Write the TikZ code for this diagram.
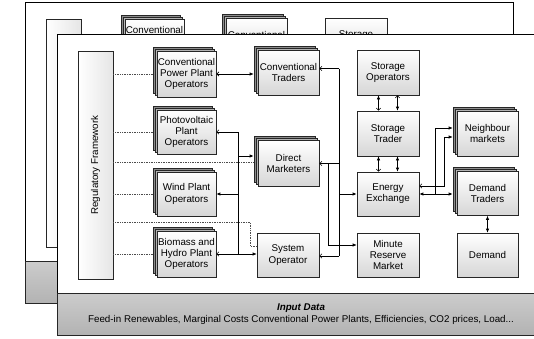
\documentclass[tikz,border=0pt]{standalone}
\usepackage{fontspec}
\setmainfont{Liberation Sans}
\usetikzlibrary{arrows.meta,shadows}
\tikzset{
  FillTip/.tip={Latex[length=4pt,width=3.4pt]},
  OpenTip/.tip={Straight Barb[length=2.2pt,width=4.4pt]},
  txt/.style={font=\fontsize{9.8}{11.2}\selectfont, align=center},
  box/.style={txt, draw=black!85, line width=0.6pt, top color=white, bottom color=black!16, inner sep=1pt},
  stackbox/.style={box,
    copy shadow={shadow xshift=-4pt, shadow yshift=4pt, fill=black!45, draw=black!85, line width=0.6pt},
    copy shadow={shadow xshift=-2pt, shadow yshift=2pt, fill=black!30, draw=black!85, line width=0.6pt}},
  frame/.style={draw=black, line width=0.8pt, fill=white},
  inbox/.style={draw=black!85, line width=0.8pt, top color=black!20, bottom color=black!30, txt, font=\fontsize{9.8}{12}\selectfont},
  regbox/.style={box, left color=white, right color=black!10},
  conn/.style={line width=0.6pt, black},
  heavy/.style={line width=1pt},
  dotline/.style={densely dotted, line width=0.7pt, black!70},
}
\begin{document}
\begin{tikzpicture}[x=1pt, y=-1pt]
  \clip (0,0) rectangle (534,338);
  % ---------- back layer (only the parts that show) ----------
  \begin{scope}[shift={(-32,-32)}, name prefix=b-]
    \node[frame, minimum width=488pt, minimum height=301pt] (frame) at (301,184.5) {};
    \node[inbox, minimum width=488pt, minimum height=42pt] (input) at (301,314) {};
    \node[regbox, minimum width=35pt, minimum height=228pt] (reg) at (95.5,165) {};
    \node[stackbox, minimum width=59pt, minimum height=46pt] (cppo) at (186.5,74) {Conventional\\Power Plant\\Operators};
    \node[stackbox, minimum width=61pt, minimum height=45pt] (ct) at (288.5,72.5) {Conventional\\Traders};
    \node[box, minimum width=62pt, minimum height=45pt] (sop) at (388,72.5) {Storage\\Operators};
  \end{scope}
  % ---------- front layer ----------
  \node[frame, minimum width=488pt, minimum height=301pt] (frame) at (301,184.5) {};
  \node[inbox, minimum width=488pt, minimum height=42pt] (input) at (301,314) {\textbf{\textit{Input Data}}\\Feed-in Renewables, Marginal Costs Conventional Power Plants, Efficiencies, CO2 prices, Load...};
  % regulatory framework
  \node[regbox, minimum width=35pt, minimum height=228pt] (reg) at (95.5,165) {};
  \node[txt, rotate=90] (regtext) at (reg.center) {Regulatory Framework};
  % plant operators
  \node[stackbox, minimum width=59pt, minimum height=46pt] (cppo) at (186.5,74) {Conventional\\Power Plant\\Operators};
  \node[stackbox, minimum width=59pt, minimum height=44pt] (pv) at (186.5,132) {Photovoltaic\\Plant\\Operators};
  \node[stackbox, minimum width=59pt, minimum height=44pt] (wind) at (186.5,194) {Wind Plant\\Operators};
  \node[stackbox, minimum width=59pt, minimum height=46pt] (bio) at (186.5,254) {Biomass and\\Hydro Plant\\Operators};
  % traders
  \node[stackbox, minimum width=61pt, minimum height=45pt] (ct) at (288.5,72.5) {Conventional\\Traders};
  \node[stackbox, minimum width=61pt, minimum height=46pt] (dm) at (288.5,163.5) {Direct\\Marketers};
  \node[box, minimum width=62pt, minimum height=44pt] (so) at (288,255) {System\\Operator};
  % storage / exchange
  \node[box, minimum width=62pt, minimum height=45pt] (sop) at (388,72.5) {Storage\\Operators};
  \node[box, minimum width=62pt, minimum height=45pt] (st) at (388,133.5) {Storage\\Trader};
  \node[box, minimum width=62pt, minimum height=44pt] (ee) at (388,194) {Energy\\Exchange};
  \node[box, minimum width=62pt, minimum height=44pt] (mrm) at (388,255) {Minute\\Reserve\\Market};
  % right column
  \node[stackbox, minimum width=61pt, minimum height=45pt] (nb) at (487.5,133.5) {Neighbour\\markets};
  \node[stackbox, minimum width=61pt, minimum height=44pt] (dt) at (487.5,193.5) {Demand\\Traders};
  \node[box, minimum width=61pt, minimum height=44pt] (dem) at (487.5,255) {Demand};
  % bus coordinates
  \coordinate (lbus) at (238,0);
  \coordinate (rbus) at (339,0);
  \coordinate (mbus) at (328,0);
  \coordinate (nbA) at (435,0);
  \coordinate (nbB) at (444,0);
  \coordinate (sob) at (250,222);
  \coordinate (dmdot) at ([yshift=1.5pt,xshift=-4pt]dm.west);
  % dotted regulatory links
  \draw[dotline] (reg.east |- cppo.west) -- ([xshift=-4pt]cppo.west);
  \draw[dotline] (reg.east |- pv.west) -- ([xshift=-4pt]pv.west);
  \draw[dotline] (reg.east |- wind.west) -- ([xshift=-4pt]wind.west);
  \draw[dotline] (reg.east |- bio.west) -- ([xshift=-4pt]bio.west);
  \draw[dotline] (reg.east |- dmdot) -- (dmdot);
  \draw[dotline] (reg.east |- sob) -- (sob) |- ([yshift=9pt]so.west);
  % conventional
  \draw[conn, OpenTip-FillTip] (cppo.east) -- ([xshift=-4pt]ct.west |- cppo.east);
  % left bus
  \draw[conn] (pv.east -| lbus) -- (bio.east -| lbus);
  \draw[conn, -OpenTip] (pv.east -| lbus) -- (pv.east);
  \draw[conn, heavy, -FillTip] ([yshift=7.5pt]dm.west -| lbus) -- ([yshift=7.5pt,xshift=-4pt]dm.west);
  \draw[conn, heavy, -FillTip] (wind.east -| lbus) -- (wind.east);
  \draw[conn, OpenTip-FillTip] (bio.east) -- (so.west |- bio.east);
  % right bus
  \draw[conn] ([yshift=4pt]ct.east -| rbus) -- ([yshift=-1pt]so.east -| rbus);
  \draw[conn, -OpenTip] ([yshift=4pt]ct.east -| rbus) -- ([yshift=4pt]ct.east);
  \draw[conn, -OpenTip] (dm.east -| rbus) -- (dm.east);
  \draw[conn, heavy, -FillTip] (ee.west -| rbus) -- (ee.west);
  \draw[conn, -OpenTip] ([yshift=-1pt]so.east -| rbus) -- ([yshift=-1pt]so.east);
  \draw[conn, -FillTip] (dm.east -| mbus) |- ([yshift=10pt]mrm.west);
  % storage
  \draw[conn, FillTip-OpenTip] ([xshift=-9.5pt]sop.south) -- ([xshift=-9.5pt]st.north);
  \draw[conn, OpenTip-FillTip] ([xshift=9.5pt]sop.south) -- ([xshift=9.5pt]st.north);
  \draw[conn, FillTip-OpenTip] ([xshift=-9.5pt]st.south) -- ([xshift=-9.5pt]ee.north);
  \draw[conn, FillTip-FillTip] ([xshift=9.5pt]st.south) -- ([xshift=9.5pt]ee.north);
  % exchange to neighbours and demand
  \draw[conn, OpenTip-FillTip] ([yshift=8pt]ee.east) -| ([yshift=-3.5pt]nb.west -| nbB) -- ([yshift=-3.5pt,xshift=-4pt]nb.west);
  \draw[conn, heavy, FillTip-FillTip] (ee.east) -- ([xshift=-4pt]dt.west |- ee.east);
  \draw[conn, -FillTip] (ee.east -| nbA) |- ([yshift=5.5pt,xshift=-4pt]nb.west);
  \draw[conn, FillTip-FillTip] (dt.south) -- (dem.north);
\end{tikzpicture}
\end{document}
